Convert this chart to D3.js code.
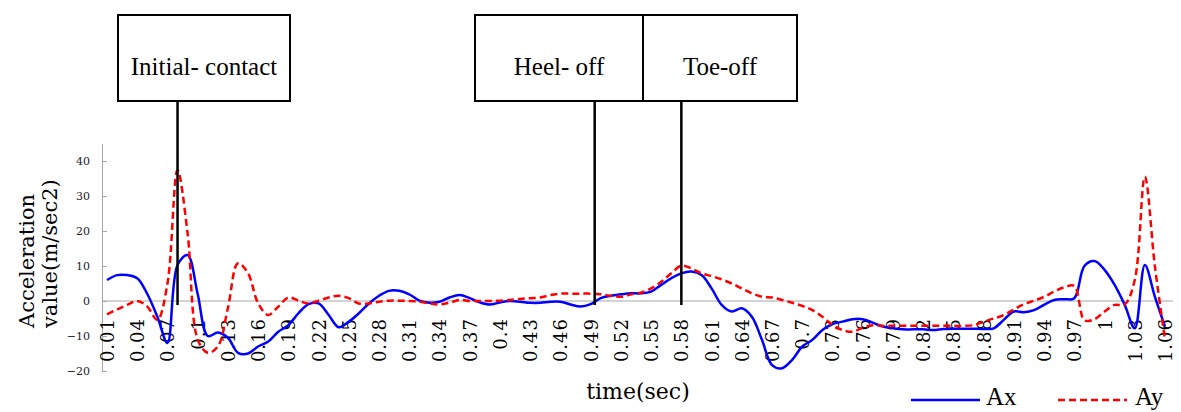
<!DOCTYPE html>
<html>
<head>
<meta charset="utf-8">
<script src="https://cdn.jsdelivr.net/npm/d3@7"></script>
<style>
  body { margin: 0; background: #fff; }
  svg { display: block; }
</style>
</head>
<body>
<svg id="chart" width="1181" height="412"></svg>
<script>
// time axis (sec), one sample every 0.01 s
const time = [0.01, 0.02, 0.03, 0.04, 0.05, 0.06, 0.07, 0.08, 0.09, 0.1,
  0.11, 0.12, 0.13, 0.14, 0.15, 0.16, 0.17, 0.18, 0.19, 0.2,
  0.21, 0.22, 0.23, 0.24, 0.25, 0.26, 0.27, 0.28, 0.29, 0.3,
  0.31, 0.32, 0.33, 0.34, 0.35, 0.36, 0.37, 0.38, 0.39, 0.4,
  0.41, 0.42, 0.43, 0.44, 0.45, 0.46, 0.47, 0.48, 0.49, 0.5,
  0.51, 0.52, 0.53, 0.54, 0.55, 0.56, 0.57, 0.58, 0.59, 0.6,
  0.61, 0.62, 0.63, 0.64, 0.65, 0.66, 0.67, 0.68, 0.69, 0.7,
  0.71, 0.72, 0.73, 0.74, 0.75, 0.76, 0.77, 0.78, 0.79, 0.8,
  0.81, 0.82, 0.83, 0.84, 0.85, 0.86, 0.87, 0.88, 0.89, 0.9,
  0.91, 0.92, 0.93, 0.94, 0.95, 0.96, 0.97, 0.98, 0.99, 1,
  1.01, 1.02, 1.03, 1.04, 1.05, 1.06];

const ax = [6, 7.4, 7.4, 6.5, 2, -4.5, -12, 10.3, 13.1, 2,
  -10, -9, -10.5, -14.8, -15, -13, -11.6, -8.8, -6.9, -3.5,
  -0.9, -0.7, -4, -7.5, -5.9, -3.5, -0.7, 1.5, 2.9, 2.9,
  1.9, 0.1, -0.5, -0.2, 1, 1.7, 0.8, -0.4, -1, -0.4,
  0, -0.2, -0.5, -0.5, -0.2, -0.2, -1, -1.6, -0.9, 0.8,
  1.5, 1.9, 2.2, 2.2, 2.7, 4.6, 6.5, 7.9, 8.4, 7.4,
  3.6, -1.1, -3, -2.1, -4.5, -11.1, -18.3, -19.2, -16.8, -13,
  -11.1, -8.3, -6.6, -5.9, -5.2, -5.2, -6.2, -7.3, -7.8, -8.1,
  -8.1, -8.1, -8.3, -8, -7.9, -7.9, -7.9, -8, -7.8, -5.4,
  -3, -3.2, -2.6, -1.1, 0.3, 0.5, 0.8, 10, 11.4, 8.9,
  4.6, -1.1, -7.8, 10.3, 1.2, -7.3];

const ay = [-3.8, -2.4, -1.1, 0, -1.6, -5.4, 5, 37.4, 19.3, -11,
  -14.8, -13, -2, 10.8, 7.9, -0.7, -4, -1.6, 1, 0.1,
  -0.7, 0.1, 1, 1.5, 0.8, -0.7, -0.7, -0.2, 0.1, 0.1,
  0, -0.2, -0.7, -1, -0.5, 0.3, 0, 0, 0, 0.1,
  0.3, 0.6, 0.8, 1, 1.7, 2.1, 2.1, 2.1, 2.1, 1.9,
  1.5, 1.2, 1.9, 2.4, 3.6, 5.5, 7.9, 10.1, 9.3, 7.9,
  7.1, 6.2, 5, 3.6, 2.2, 1.2, 1, 0.3, -0.5, -1.4,
  -2.6, -4.5, -6.9, -8.3, -8.8, -7.6, -6.9, -7.1, -7.1, -7.1,
  -7.1, -7.1, -7.1, -7.1, -7.1, -7.1, -6.9, -5.9, -5, -4,
  -2.4, -0.9, 0.1, 1.2, 2.7, 3.9, 4.3, -5.5, -5.2, -3,
  -1.1, -1, 6, 35.5, 9.8, -11];

const tickLabels = ["0.01", "0.04", "0.07", "0.1", "0.13", "0.16", "0.19", "0.22", "0.25",
  "0.28", "0.31", "0.34", "0.37", "0.4", "0.43", "0.46", "0.49", "0.52", "0.55", "0.58",
  "0.61", "0.64", "0.67", "0.7", "0.73", "0.76", "0.79", "0.82", "0.85", "0.88", "0.91",
  "0.94", "0.97", "1", "1.03", "1.06"];
const yTicks = [-20, -10, 0, 10, 20, 30, 40];

// gait events marked above the plot
const events = ["Initial- contact", "Heel- off", "Toe-off"];
const eventTimes = [0.08, 0.494, 0.58];

const svg = d3.select('#chart');
const serif = 'DejaVu Serif, serif';
const times = 'Liberation Serif, Times New Roman, serif';

const x = d3.scaleLinear().domain([0.01, 1.06]).range([107, 1165]);
const y = d3.scaleLinear().domain([-20, 45]).range([371, 143.5]);

// zero line
svg.append('line')
  .attr('x1', 102).attr('x2', 1173)
  .attr('y1', y(0)).attr('y2', y(0))
  .attr('stroke', '#a6a6a6').attr('stroke-width', 1);

// y axis
const yAxis = svg.append('g')
  .attr('transform', 'translate(102,0)')
  .call(d3.axisLeft(y).tickValues(yTicks).tickSizeInner(-5).tickSizeOuter(0).tickPadding(12));
yAxis.select('.domain').attr('stroke', '#a6a6a6');
yAxis.selectAll('.tick line').attr('stroke', '#a6a6a6');
yAxis.selectAll('text')
  .style('font-family', serif).style('font-size', '11px').attr('fill', '#222');

// x axis labels, written upward just under the zero line
const xAxis = svg.append('g')
  .attr('transform', 'translate(0,' + y(0) + ')')
  .call(d3.axisBottom(x).tickValues(tickLabels.map(Number))
    .tickFormat((d, i) => tickLabels[i]).tickSize(0));
xAxis.select('.domain').remove();
xAxis.selectAll('text')
  .attr('transform', 'rotate(-90)')
  .attr('text-anchor', 'end')
  .attr('x', -17).attr('y', 0).attr('dy', '0.36em')
  .style('font-family', serif).style('font-size', '18px')
  .style('letter-spacing', '1px').attr('fill', '#000');

// series
const line = (vals) => d3.line()
  .x((d, i) => x(time[i]))
  .y(d => y(d))
  .curve(d3.curveCatmullRom.alpha(0.5))(vals);

svg.append('path')
  .attr('d', line(ax))
  .attr('fill', 'none').attr('stroke', '#0000ff').attr('stroke-width', 2.5);

svg.append('path')
  .attr('d', line(ay))
  .attr('fill', 'none').attr('stroke', '#ff0000').attr('stroke-width', 2.5)
  .attr('stroke-dasharray', '7,4');

// event markers
const boxes = [[118, 290], [475, 643], [643, 797]];
eventTimes.forEach((t, i) => {
  svg.append('line')
    .attr('x1', x(t)).attr('x2', x(t))
    .attr('y1', 101).attr('y2', 305)
    .attr('stroke', '#000').attr('stroke-width', 2.5);
});
events.forEach((name, i) => {
  const [l, r] = boxes[i];
  svg.append('rect')
    .attr('x', l).attr('y', 15).attr('width', r - l).attr('height', 86)
    .attr('fill', '#fff').attr('stroke', '#000').attr('stroke-width', 2);
  svg.append('text')
    .attr('x', (l + r) / 2).attr('y', 75)
    .attr('text-anchor', 'middle')
    .style('font-family', times).style('font-size', '25px')
    .text(name);
});

// axis titles
svg.append('text')
  .attr('transform', 'translate(34,328) rotate(-90)')
  .style('font-family', serif).style('font-size', '21px')
  .text('Acceleration');
svg.append('text')
  .attr('transform', 'translate(57,328) rotate(-90)')
  .style('font-family', serif).style('font-size', '21px')
  .text('value(m/sec2)');
svg.append('text')
  .attr('x', 638).attr('y', 399)
  .attr('text-anchor', 'middle')
  .style('font-family', serif).style('font-size', '22px')
  .text('time(sec)');

// legend
const legend = svg.append('g');
legend.append('line')
  .attr('x1', 911).attr('x2', 980).attr('y1', 400).attr('y2', 400)
  .attr('stroke', '#0000ff').attr('stroke-width', 2.5);
legend.append('text')
  .attr('x', 986).attr('y', 405)
  .style('font-family', times).style('font-size', '25px')
  .text('Ax');
legend.append('line')
  .attr('x1', 1058).attr('x2', 1127).attr('y1', 400).attr('y2', 400)
  .attr('stroke', '#ff0000').attr('stroke-width', 2.5)
  .attr('stroke-dasharray', '7,4');
legend.append('text')
  .attr('x', 1135).attr('y', 405)
  .style('font-family', times).style('font-size', '25px')
  .text('Ay');
</script>
</body>
</html>
